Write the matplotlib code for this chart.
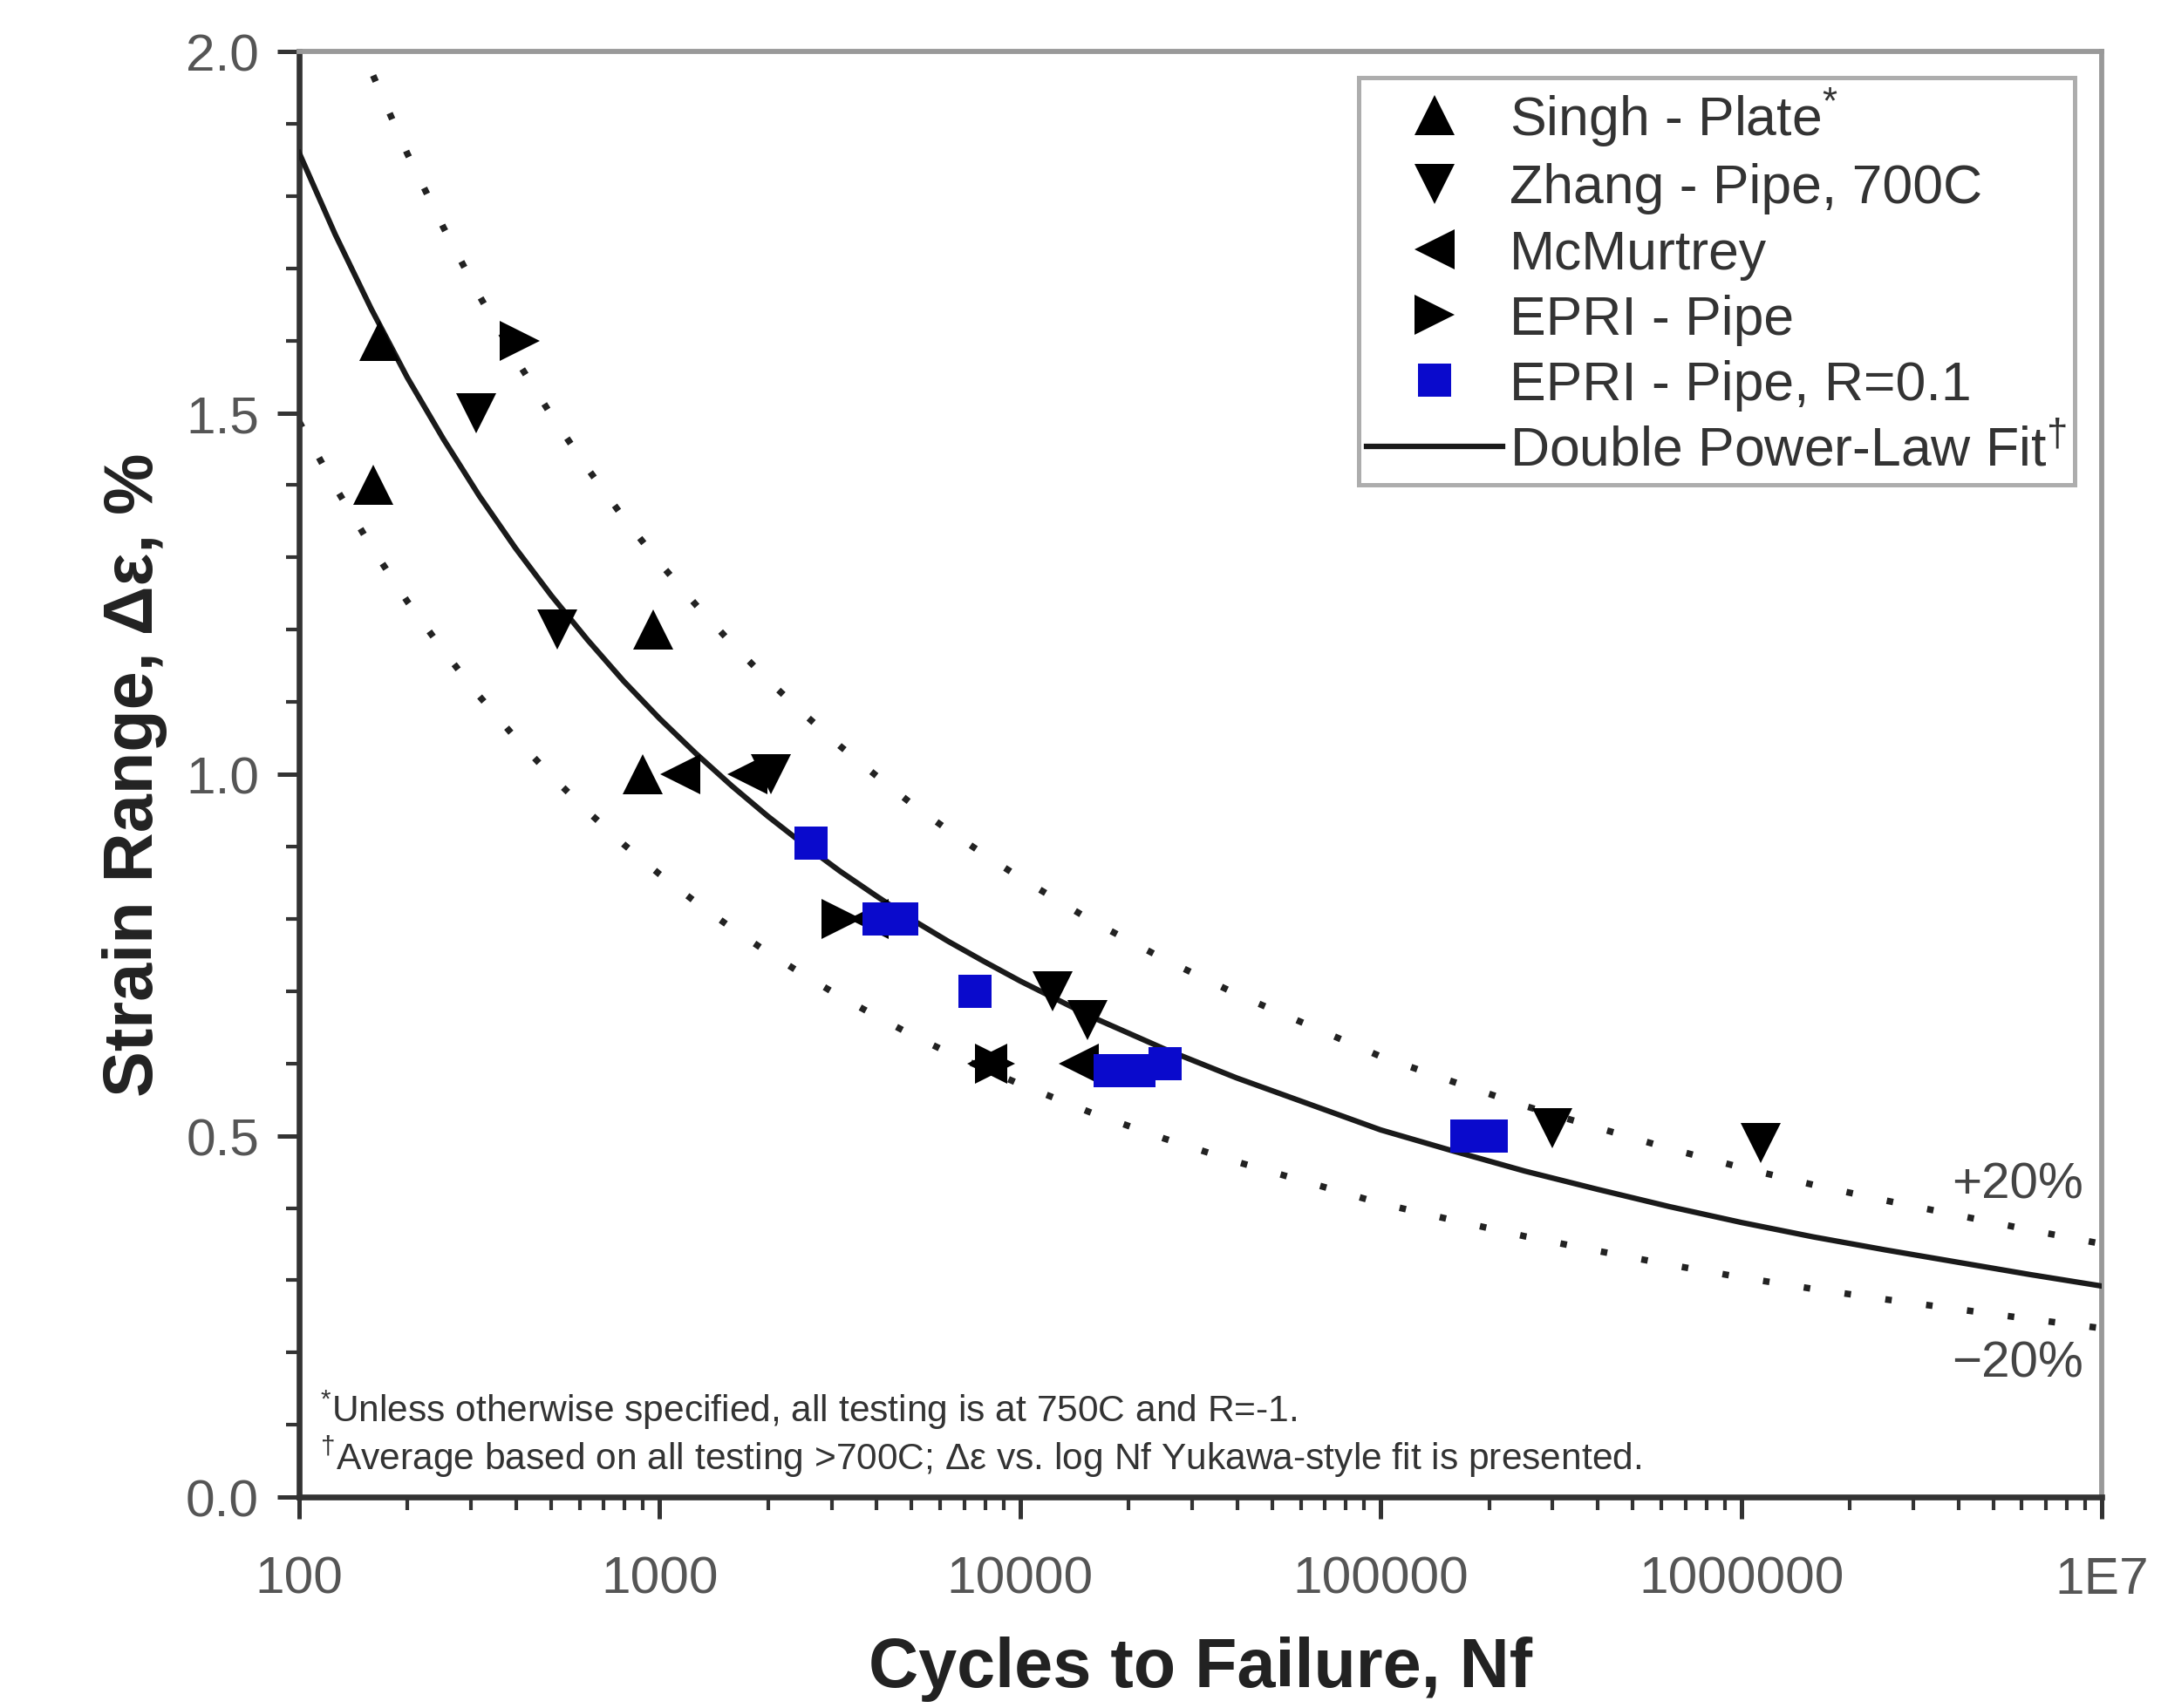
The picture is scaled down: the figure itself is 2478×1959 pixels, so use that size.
import matplotlib
matplotlib.use("Agg")
import matplotlib.pyplot as plt
from matplotlib.ticker import FixedLocator, NullFormatter, MultipleLocator, FormatStrFormatter
from matplotlib.lines import Line2D
import numpy as np

plt.rcParams['font.family'] = ['Liberation Sans', 'DejaVu Sans']
plt.rcParams['mathtext.fontset'] = 'custom'
plt.rcParams['mathtext.rm'] = 'Liberation Sans'
plt.rcParams['mathtext.it'] = 'Liberation Sans:italic'
plt.rcParams['mathtext.bf'] = 'Liberation Sans:bold'

# ---- test data (cycles to failure, strain range %) ----
singh_n = [167, 161, 960, 900]
singh_e = [1.60, 1.40, 1.20, 1.00]

zhang_n = [310, 520, 2030, 12300, 15400, 300000, 1130000]
zhang_e = [1.50, 1.20, 1.00, 0.70, 0.66, 0.51, 0.49]

mcm_n = [1140, 1750, 3800, 8100, 14500]
mcm_e = [1.00, 1.00, 0.80, 0.60, 0.60]

epri_n = [410, 3200, 8500]
epri_e = [1.60, 0.80, 0.60]

epri_r_n = [2630, 4050, 4700, 7500, 17800, 21300, 25300, 173000, 203000]
epri_r_e = [0.905, 0.80, 0.80, 0.70, 0.59, 0.59, 0.60, 0.50, 0.50]

# ---- average fit curve (log10 Nf, strain range %) ----
fit_logn = [2.0, 2.1, 2.2, 2.3, 2.4, 2.5, 2.6, 2.7, 2.8, 2.9,
            3.0, 3.1, 3.2, 3.3, 3.4, 3.5, 3.6, 3.7, 3.8, 3.9,
            4.0, 4.2, 4.4, 4.6, 4.8, 5.0, 5.2, 5.4, 5.6, 5.8,
            6.0, 6.2, 6.4, 6.6, 6.8, 7.0]
fit_e = [1.860, 1.747, 1.644, 1.549, 1.464, 1.385, 1.313, 1.247, 1.186, 1.129,
         1.077, 1.029, 0.984, 0.942, 0.903, 0.866, 0.832, 0.799, 0.769, 0.741,
         0.714, 0.664, 0.620, 0.580, 0.544, 0.508, 0.479, 0.451, 0.426, 0.402,
         0.380, 0.360, 0.342, 0.325, 0.308, 0.292]
band_factors = [1.2, 0.8]          # +20% / -20% scatter band

x_ticks = [100, 1000, 10000, 100000, 1000000, 10000000]
x_ticklabels = ['100', '1000', '10000', '100000', '1000000', '1E7']

fig = plt.figure(figsize=(8.26, 6.5333), dpi=300)
ax = fig.add_axes([0.1384, 0.1234, 0.8342, 0.846])
ax.set_xscale('log')
ax.set_xlim(100, 1e7)
ax.set_ylim(0, 2.0)

fit_n = 10.0 ** np.array(fit_logn)
fit_arr = np.array(fit_e)

ax.plot(fit_n, fit_arr, color='#1a1a1a', lw=1.5, zorder=3, solid_joinstyle='round')
for f in band_factors:
    ax.plot(fit_n, fit_arr * f, color='#222222', lw=1.8,
            linestyle=(0, (1, 5.3)), dash_capstyle='butt', zorder=2)

ms_tri = 11.0
ms_sq = 9.0
blue = '#0a0acc'
ax.plot(singh_n, singh_e, '^', color='black', ms=ms_tri, mew=0, zorder=5, ls='none')
ax.plot(zhang_n, zhang_e, 'v', color='black', ms=ms_tri, mew=0, zorder=5, ls='none')
ax.plot(mcm_n, mcm_e, '<', color='black', ms=ms_tri, mew=0, zorder=5, ls='none')
ax.plot(epri_n, epri_e, '>', color='black', ms=ms_tri, mew=0, zorder=5, ls='none')
ax.plot(epri_r_n, epri_r_e, 's', color=blue, ms=ms_sq, mew=0, zorder=6, ls='none')

# band labels
ax.text(0.99, 0.433, '+20%', transform=ax.get_yaxis_transform(), ha='right',
        va='center', fontsize=14, color='#444444')
ax.text(0.99, 0.185, '\u221220%', transform=ax.get_yaxis_transform(), ha='right',
        va='center', fontsize=14, color='#444444')

# footnotes
ax.text(0.0115, 0.122, r'$^{*}$Unless otherwise specified, all testing is at 750C and R=-1.',
        transform=ax.get_yaxis_transform(), ha='left', va='center', fontsize=10.2,
        color='#333333')
ax.text(0.0115, 0.057,
        r'$^{\dagger}$Average based on all testing >700C; Δε vs. log Nf Yukawa-style fit is presented.',
        transform=ax.get_yaxis_transform(), ha='left', va='center', fontsize=10.2,
        color='#333333')

# axes styling
ax.xaxis.set_major_locator(FixedLocator(x_ticks))
ax.set_xticklabels(x_ticklabels)
minor = [m * 10 ** d for d in range(2, 7) for m in range(2, 10)]
ax.xaxis.set_minor_locator(FixedLocator(minor))
ax.xaxis.set_minor_formatter(NullFormatter())
ax.yaxis.set_major_locator(MultipleLocator(0.5))
ax.yaxis.set_minor_locator(MultipleLocator(0.1))
ax.yaxis.set_major_formatter(FormatStrFormatter('%.1f'))

ax.tick_params(axis='both', which='major', direction='out', length=6, width=1.2,
               labelsize=14.5, labelcolor='#555555', color='#333333')
ax.tick_params(axis='x', which='major', pad=10)
ax.tick_params(axis='y', which='major', pad=5)
ax.tick_params(axis='both', which='minor', direction='out', length=3.5, width=1.0,
               color='#333333')
ax.tick_params(top=False, right=False, which='both')

for side in ['left', 'bottom']:
    ax.spines[side].set_color('#333333')
    ax.spines[side].set_linewidth(1.6)
for side in ['top', 'right']:
    ax.spines[side].set_color('#999999')
    ax.spines[side].set_linewidth(1.4)

ax.set_xlabel('Cycles to Failure, Nf', fontsize=19, fontweight='bold',
              color='#222222', labelpad=9)
ax.set_ylabel('Strain Range, Δε, %', fontsize=19, fontweight='bold',
              color='#222222', labelpad=5)

handles = [
    Line2D([], [], marker='^', color='black', ls='none', ms=ms_tri, mew=0),
    Line2D([], [], marker='v', color='black', ls='none', ms=ms_tri, mew=0),
    Line2D([], [], marker='<', color='black', ls='none', ms=ms_tri, mew=0),
    Line2D([], [], marker='>', color='black', ls='none', ms=ms_tri, mew=0),
    Line2D([], [], marker='s', color=blue, ls='none', ms=ms_sq, mew=0),
    Line2D([], [], color='#1a1a1a', lw=1.5),
]
labels = [r'Singh - Plate$^{*}$', 'Zhang - Pipe, 700C', 'McMurtrey', 'EPRI - Pipe',
          'EPRI - Pipe, R=0.1', r'Double Power-Law Fit$^{\dagger}$']
leg = ax.legend(handles, labels, loc='upper right', bbox_to_anchor=(0.985, 0.982),
                borderaxespad=0, fontsize=15, frameon=True, fancybox=False,
                edgecolor='#999999', handlelength=2.5, handletextpad=0.12,
                labelspacing=0.26, borderpad=0.15)
leg.get_frame().set_linewidth(1.2)
for t in leg.get_texts():
    t.set_color('#333333')

fig.savefig('out.png', dpi=300)
